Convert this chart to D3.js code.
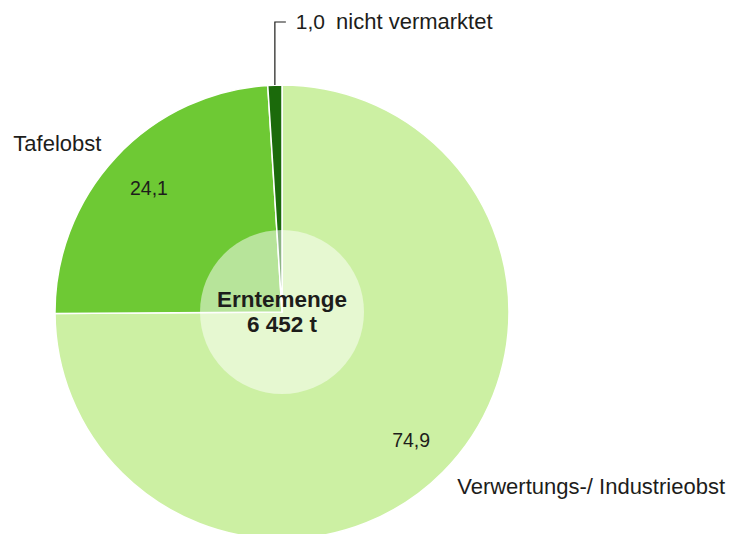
<!DOCTYPE html>
<html>
<head>
<meta charset="utf-8">
<script src="https://cdn.jsdelivr.net/npm/d3@7"></script>
<style>
  html, body { margin: 0; padding: 0; background: #fff; }
  svg { display: block; font-family: "Liberation Sans", Arial, sans-serif; }
  text { fill: #1d1d1b; }
</style>
</head>
<body>
<svg id="chart" width="733" height="534"></svg>
<script>
// ---------- data ----------
const categories = ['Verwertungs-/ Industrieobst', 'Tafelobst', 'nicht vermarktet'];
const shares     = [74.9, 24.1, 1.0];
const colors     = ['#ccf0a3', '#6ec934', '#1b6a0b'];
const centerLines = ['Erntemenge', '6 452 t'];

const fmt = v => d3.format('.1f')(v).replace('.', ',');

// ---------- layout ----------
const svg = d3.select('#chart');
const cx = 282, cy = 312, R = 227, rInner = 82;

const g = svg.append('g').attr('transform', `translate(${cx},${cy})`);

const pie = d3.pie().sort(null).value(d => d.v);
const data = pie(categories.map((c, i) => ({ c, v: shares[i], col: colors[i] })));

const arc = d3.arc().innerRadius(0).outerRadius(R);
const labelArc = d3.arc().innerRadius(182).outerRadius(182);
const nameArc = d3.arc().innerRadius(247).outerRadius(247);

// slices
g.selectAll('path.slice')
  .data(data)
  .join('path')
  .attr('class', 'slice')
  .attr('d', arc)
  .attr('fill', d => d.data.col)
  .attr('stroke', '#fff')
  .attr('stroke-width', 1.5)
  .attr('stroke-linejoin', 'round');

// inner translucent circle
g.append('circle')
  .attr('r', rInner)
  .attr('fill', '#fff')
  .attr('fill-opacity', 0.5);

// center text
g.selectAll('text.center')
  .data(centerLines)
  .join('text')
  .attr('class', 'center')
  .attr('text-anchor', 'middle')
  .attr('y', (d, i) => -5 + i * 25)
  .attr('font-size', 22.5)
  .attr('font-weight', 'bold')
  .text(d => d);

// big slices: value inside, name outside
const big = data.filter(d => d.data.v > 5);

g.selectAll('text.val')
  .data(big)
  .join('text')
  .attr('class', 'val')
  .attr('text-anchor', 'middle')
  .attr('dy', '0.35em')
  .attr('font-size', 19.5)
  .attr('transform', d => `translate(${labelArc.centroid(d)})`)
  .text(d => fmt(d.data.v));

g.selectAll('text.name')
  .data(big)
  .join('text')
  .attr('class', 'name')
  .attr('font-size', 22)
  .attr('dy', '0.35em')
  .attr('text-anchor', d => (d.startAngle + d.endAngle) / 2 > Math.PI ? 'end' : 'start')
  .attr('transform', d => `translate(${nameArc.centroid(d)})`)
  .text(d => d.data.c);

// small slice: leader line + label above
const small = data.filter(d => d.data.v <= 5);
small.forEach(d => {
  const a = (d.startAngle + d.endAngle) / 2;
  const x0 = Math.sin(a) * R, y0 = -Math.cos(a) * R;
  const yTop = -cy + 22;
  g.append('path')
    .attr('d', `M${x0},${y0}V${yTop}h11`)
    .attr('fill', 'none')
    .attr('stroke', '#1d1d1b')
    .attr('stroke-width', 1.2);
  const t = g.append('text')
    .attr('x', x0 + 21)
    .attr('y', yTop)
    .attr('dy', '0.35em')
    .attr('font-size', 21);
  t.append('tspan').text(fmt(d.data.v));
  t.append('tspan').attr('dx', 11).attr('font-size', 22).text(d.data.c);
});
</script>
</body>
</html>
